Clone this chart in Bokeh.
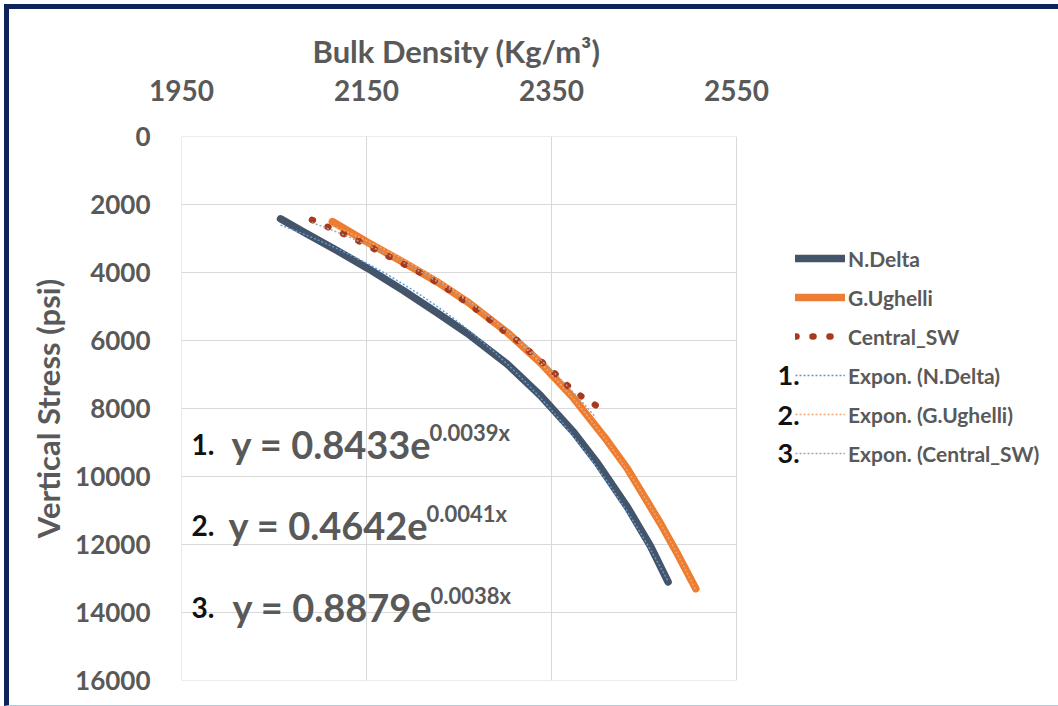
import numpy as np
from bokeh.plotting import figure
from bokeh.models import Range1d, FixedTicker, Label, Legend, LegendItem, InlineStyleSheet
from bokeh.embed import file_html
from bokeh.resources import INLINE

# ---------------- data ----------------
density_ticks = [1950, 2150, 2350, 2550]
stress_ticks = [0, 2000, 4000, 6000, 8000, 10000, 12000, 14000, 16000]

nd_density = [2057, 2082, 2118, 2151, 2190, 2226, 2259, 2302, 2338, 2374, 2400, 2432, 2457, 2476]
nd_stress = [2420, 2810, 3350, 3870, 4530, 5180, 5790, 6690, 7620, 8700, 9620, 10900, 12050, 13100]

gu_density = [2113, 2151, 2190, 2226, 2259, 2302, 2338, 2374, 2410, 2432, 2468, 2486, 2506]
gu_stress = [2500, 3110, 3700, 4270, 4860, 5760, 6650, 7700, 8940, 9770, 11390, 12270, 13300]

cs_density = [2091, 2109, 2125, 2142, 2158, 2174, 2190, 2207, 2223, 2239, 2253,
              2268, 2282, 2298, 2313, 2327, 2340, 2354, 2367, 2381, 2398]
cs_stress = [2450, 2670, 2860, 3080, 3300, 3530, 3750, 3990, 4240, 4510, 4780,
             5070, 5360, 5710, 6000, 6340, 6640, 6980, 7320, 7620, 7910]

equations = ["y = 0.8433e", "y = 0.4642e", "y = 0.8879e"]
exponents = ["0.0039x", "0.0041x", "0.0038x"]
series_names = ["N.Delta", "G.Ughelli", "Central_SW"]
trend_names = ["Expon. (N.Delta)", "Expon. (G.Ughelli)", "Expon. (Central_SW)"]
trend_numbers = ["1.", "2.", "3."]
x_title = "Bulk Density (Kg/m³)"
y_title = "Vertical Stress (psi)"

# ---------------- styling ----------------
FONT = "Lato"
GRAY = "#595959"
BLACK = "#111111"
GRID = "#D9D9D9"
C_ND = "#44546A"
C_GU = "#ED7D31"
C_CS = "#A9391C"
T_ND = "#5B9BD5"
T_GU = "#F4A46E"
T_CS = "#A5A5A5"

W, H = 1058, 706
X0, X1 = 1950, 2550
Y0, Y1 = 0, 16000
FL, FT, FW, FH = 181, 136, 555, 544  # plotting area of the axes, in pixels
X_END = X0 + (W - FL) * (X1 - X0) / FW   # frame runs on to the right edge (room for the legend)
EPS = 0.05


def dx(px):
    return X0 + (px - FL) * (X1 - X0) / FW


def dy(py):
    return Y0 + (py - FT) * (Y1 - Y0) / FH


p = figure(width=W, height=H, x_range=Range1d(X0 - EPS, X_END), y_range=Range1d(Y1 + 3, Y0 - 3),
           x_axis_location="above", output_backend="svg", toolbar_location=None,
           title=x_title, min_border_left=FL, min_border_right=0, min_border_top=FT,
           min_border_bottom=H - FT - FH)
p.background_fill_color = "white"
p.border_fill_color = "white"
p.outline_line_color = None

# navy frame on the top and left edges of the picture (only on this figure's own element)
p.css_classes = ["outer-frame"]
frame_css = """
:host(.outer-frame) { background-color: #ffffff; }
:host(.outer-frame)::after {
  content: ""; position: absolute; left: 4px; top: 4px;
  width: calc(100% - 4px); height: calc(100% - 4px); box-sizing: border-box;
  border-top: 5px solid #0D2359; border-left: 5px solid #0D2359; border-bottom: 1px solid #B7C4DE;
  pointer-events: none; z-index: 10;
}
"""
p.stylesheets = [InlineStyleSheet(css=frame_css)]

# x-axis title as the plot title, aligned over the axis span
p.title.align = "left"
p.title.offset = 131
p.title.text_font = FONT
p.title.text_font_style = "bold"
p.title.text_font_size = "31px"
p.title.text_color = GRAY
p.title.standoff = 14

for ax in (p.xaxis[0], p.yaxis[0]):
    ax.axis_line_color = None
    ax.major_tick_line_color = None
    ax.minor_tick_line_color = None
    ax.major_tick_out = 0
    ax.major_tick_in = 0
    ax.major_label_text_font = FONT
    ax.major_label_text_font_style = "bold"
    ax.major_label_text_color = GRAY
    ax.axis_label_text_font = FONT
    ax.axis_label_text_font_style = "bold"
    ax.axis_label_text_color = GRAY

p.xaxis[0].bounds = (X0, X1)
p.yaxis[0].bounds = (Y0, Y1)
p.xaxis[0].ticker = FixedTicker(ticks=density_ticks)
p.yaxis[0].ticker = FixedTicker(ticks=stress_ticks)
p.yaxis[0].axis_label = y_title
p.xaxis[0].major_label_text_font_size = "28px"
p.yaxis[0].major_label_text_font_size = "26px"
p.yaxis[0].axis_label_text_font_size = "31px"
p.xaxis[0].major_label_standoff = 36
p.yaxis[0].major_label_standoff = 31
p.yaxis[0].axis_label_standoff = 5

p.xgrid[0].ticker = FixedTicker(ticks=density_ticks)
p.ygrid[0].ticker = FixedTicker(ticks=stress_ticks)
p.xgrid[0].cross_bounds = (Y0, Y1)
p.ygrid[0].cross_bounds = (X0, X1)
p.grid.grid_line_color = GRID
p.grid.grid_line_width = 1

# ---------------- data series ----------------
r_nd = p.line(nd_density, nd_stress, line_color=C_ND, line_width=7.5, line_cap="round", line_join="round")
r_gu = p.line(gu_density, gu_stress, line_color=C_GU, line_width=7.5, line_cap="round", line_join="round")
r_cs = p.line(cs_density, cs_stress, line_color=C_CS, line_width=6.5, line_cap="round", line_join="round",
              line_dash="1 16")


# exponential trendlines fitted from the series points
def expon_fit(xs, ys):
    xs = np.asarray(xs, float)
    b, a = np.polyfit(xs, np.log(np.asarray(ys, float)), 1)
    xx = np.linspace(xs.min(), xs.max(), 80)
    return xx, np.exp(a) * np.exp(b * xx)


t_nd = p.line(*expon_fit(nd_density, nd_stress), line_color=T_ND, line_width=1.5, line_dash="2 2")
t_gu = p.line(*expon_fit(gu_density, gu_stress), line_color=T_GU, line_width=1.5, line_dash="2 2")
t_cs = p.line(*expon_fit(cs_density, cs_stress), line_color=T_CS, line_width=1.5, line_dash="2 2")

legend = Legend(items=[
    LegendItem(label=series_names[0], renderers=[r_nd]),
    LegendItem(label=series_names[1], renderers=[r_gu]),
    LegendItem(label=series_names[2], renderers=[r_cs]),
    LegendItem(label=trend_names[0], renderers=[t_nd]),
    LegendItem(label=trend_names[1], renderers=[t_gu]),
    LegendItem(label=trend_names[2], renderers=[t_cs]),
], location=(795 - FL, (FT + FH) - 466))
legend.glyph_width = 50
legend.glyph_height = 26
legend.label_height = 26
legend.label_standoff = 3
legend.spacing = 13
legend.padding = 0
legend.margin = 0
legend.border_line_color = None
legend.background_fill_alpha = 0
legend.label_text_font = FONT
legend.label_text_font_style = "bold"
legend.label_text_font_size = "21px"
legend.label_text_color = GRAY
p.add_layout(legend, "center")

# numbers in front of the trendline legend entries
for t, yy in zip(trend_numbers, [375, 415, 453]):
    p.add_layout(Label(x=dx(777), y=dy(yy), text=t, text_font=FONT, text_font_style="bold",
                       text_font_size="27px", text_color=BLACK, text_baseline="middle"))

# equations inside the plot
LIFT = 13
for i, (base, ystart) in enumerate(zip([457, 538, 620], [231, 228, 232])):
    p.add_layout(Label(x=dx(191), y=dy(base - LIFT), text=trend_numbers[i], text_font=FONT,
                       text_font_style="bold", text_font_size="28px", text_color=BLACK,
                       text_baseline="alphabetic"))
    p.add_layout(Label(x=dx(ystart), y=dy(base - LIFT), text=equations[i], text_font=FONT,
                       text_font_style="bold", text_font_size="38px", text_color=GRAY,
                       text_baseline="alphabetic"))
    p.add_layout(Label(x=dx(ystart + 198), y=dy(base - 12 - LIFT), text=exponents[i], text_font=FONT,
                       text_font_style="bold", text_font_size="22px", text_color=GRAY,
                       text_baseline="alphabetic"))

open("out.html", "w").write(file_html(p, INLINE))
